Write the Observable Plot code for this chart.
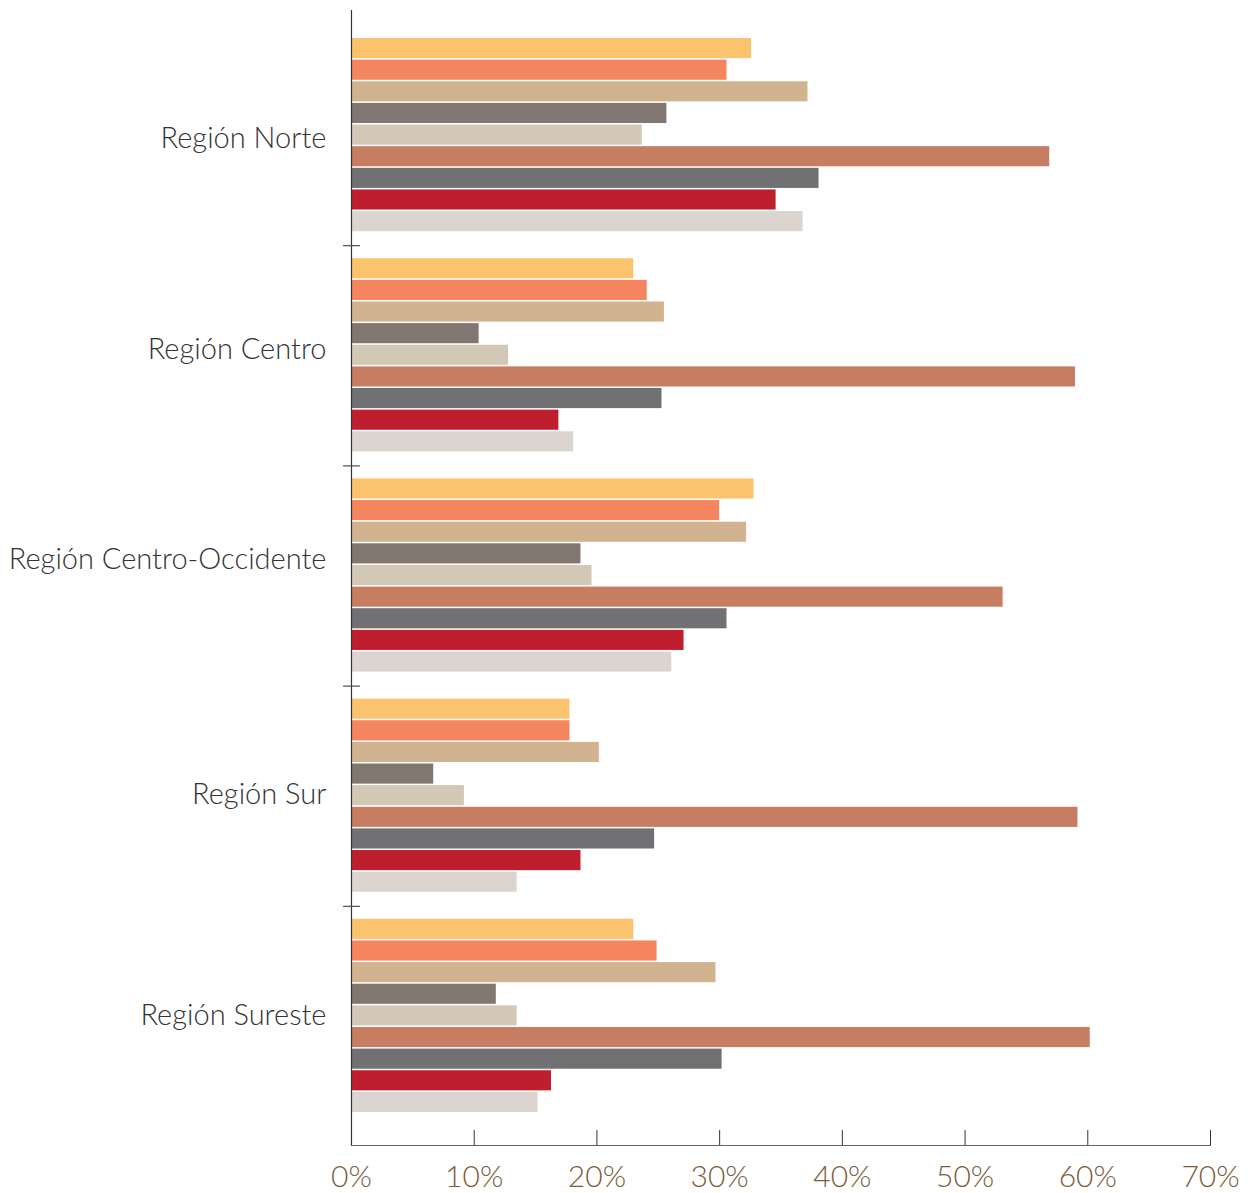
<!DOCTYPE html>
<html>
<head>
<meta charset="utf-8">
<script src="https://cdn.jsdelivr.net/npm/d3@7"></script>
<script src="https://cdn.jsdelivr.net/npm/@observablehq/plot@0.6"></script>
<style>
  html, body { margin: 0; padding: 0; background: #fff; }
  #chart svg { font-family: Lato, "Open Sans", sans-serif; font-weight: 300; }
</style>
</head>
<body>
<div id="chart"></div>
<script>
const regions = ["Región Norte", "Región Centro", "Región Centro-Occidente", "Región Sur", "Región Sureste"];
const series = ["Serie 1", "Serie 2", "Serie 3", "Serie 4", "Serie 5", "Serie 6", "Serie 7", "Serie 8", "Serie 9"];
const colors = ["#FBC36E", "#F5855F", "#D2B38F", "#827770", "#D3C8B5", "#C67D62", "#717072", "#BE1E2D", "#DCD5CF"];
const xTicks = [0, 0.1, 0.2, 0.3, 0.4, 0.5, 0.6, 0.7];

const norte = [32.6, 30.6, 37.2, 25.7, 23.7, 56.9, 38.1, 34.6, 36.8];
const centro = [23.0, 24.1, 25.5, 10.4, 12.8, 59.0, 25.3, 16.9, 18.1];
const centroOccidente = [32.8, 30.0, 32.2, 18.7, 19.6, 53.1, 30.6, 27.1, 26.1];
const sur = [17.8, 17.8, 20.2, 6.7, 9.2, 59.2, 24.7, 18.7, 13.5];
const sureste = [23.0, 24.9, 29.7, 11.8, 13.5, 60.2, 30.2, 16.3, 15.2];

const byRegion = [norte, centro, centroOccidente, sur, sureste];
const data = regions.flatMap((r, i) => series.map((s, j) => ({region: r, serie: s, value: byRegion[i][j] / 100})));

const tickLine = {draw(context, l) { context.moveTo(0, 0); context.lineTo(0, -l); }};

// vertical nudges of the region labels, as placed in the original layout
const labelNudge = [3, -6, -16, -1, -1];

const chart = Plot.plot({
  width: 1251,
  height: 1193,
  marginLeft: 351,
  marginRight: 41,
  marginTop: 25,
  marginBottom: 67,
  style: {fontFamily: "Lato, 'Open Sans', sans-serif", background: "#fff"},
  x: {domain: [0, 0.7], axis: null},
  y: {domain: series, padding: 0.07, insetTop: 11.5, insetBottom: 12.5, round: false, axis: null},
  fy: {domain: regions, padding: 0, round: false, axis: null},
  color: {domain: series, range: colors},
  marks: [
    Plot.barX(data, {x: "value", y: "serie", fy: "region", fill: "serie"}),
    ...regions.map((r, i) => Plot.text([r], {
      fy: d => d, text: d => d, frameAnchor: "left", textAnchor: "end",
      dx: -25, dy: labelNudge[i], fontSize: 29, fill: "#333", fontWeight: 300
    })),
    Plot.frame({anchor: "left", facet: "super", insetTop: -15, insetBottom: -19, stroke: "#333", strokeWidth: 1.2}),
    Plot.frame({anchor: "bottom", facet: "super", dy: 19, stroke: "#666", strokeWidth: 1.2}),
    Plot.vector(regions.slice(0, 4), {fy: d => d, frameAnchor: "bottom-left", length: 16, rotate: 90, anchor: "middle", shape: tickLine, stroke: "#555", strokeWidth: 1.2}),
    Plot.axisX({anchor: "bottom", ticks: xTicks, tickFormat: d3.format(".0%"), tickSize: 15, dy: 4, tickPadding: 20, fontSize: 30, stroke: "#333", fill: "#7B5B3A", label: null})
  ]
});
document.getElementById("chart").appendChild(chart);
</script>
</body>
</html>
